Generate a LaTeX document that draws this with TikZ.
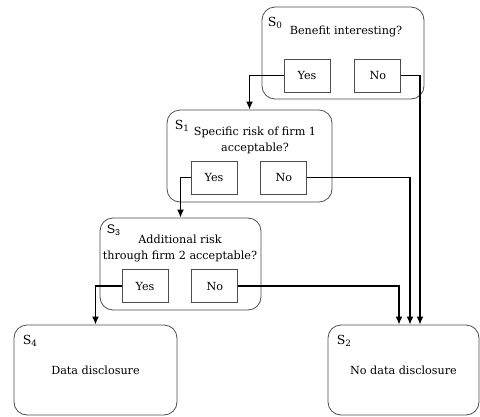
\documentclass[tikz,border=0pt]{standalone}
\usepackage{fontspec}
\setmainfont{DejaVu Serif}
\newfontfamily\labelsans{Liberation Sans}
\usetikzlibrary{positioning,arrows.meta}
\definecolor{boxgray}{gray}{0.3}
\tikzstyle{state} = [draw=boxgray, line width=0.8pt, rectangle, rounded corners=13pt, minimum height=92pt, align=center]
\tikzstyle{answer} = [draw=boxgray, line width=0.8pt, rectangle, minimum width=46pt, minimum height=33pt, inner sep=0pt]
\tikzstyle{question} = [align=center, inner sep=0pt]
\tikzstyle{statelabel} = [inner sep=0pt, font=\fontsize{12.5}{14}\selectfont]
\tikzstyle{line} = [draw, line width=1.8pt, -{Latex[length=8pt,width=7pt]}]

\begin{document}
\begin{tikzpicture}[x=1pt, y=-1pt, font=\fontsize{11.2}{16}\selectfont]
    \useasboundingbox (0,0) rectangle (480,416);

    % Place nodes
    \node [state, minimum width=162pt] (s0) at (343,53) {};
    \node [state, minimum width=165pt] (s1) at (249.5,156) {};
    \node [state, minimum width=161pt] (s3) at (180.5,264) {};
    \node [state, minimum width=163pt, minimum height=90pt] (s4) at (95.5,370) {Data disclosure};
    \node [state, minimum width=151pt, minimum height=90pt] (s2) at (403.5,370) {No data disclosure};

    \node [statelabel, below right=10pt and 6pt of s0.north west] (s0-label) {S\textsubscript{0}};
    \node [statelabel, below right=10pt and 8pt of s1.north west] (s1-label) {S\textsubscript{1}};
    \node [statelabel, below right=7pt and 7pt of s3.north west] (s3-label) {\labelsans S\textsubscript{3}};
    \node [statelabel, below right=10pt and 9pt of s4.north west] (s4-label) {S\textsubscript{4}};
    \node [statelabel, below right=10pt and 9pt of s2.north west] (s2-label) {S\textsubscript{2}};

    \node [question] (s0-question) at (346,31) {Benefit interesting?};
    \node [question] (s1-question) at (255,140) {Specific risk of firm 1\\acceptable?};
    \node [question] (s3-question) at (180,248) {Additional risk\\through firm 2 acceptable?};

    \node [answer] (s0-yes) at (307,75.5) {Yes};
    \node [answer, right=24pt of s0-yes] (s0-no) {No};
    \node [answer] (s1-yes) at (214,177.5) {Yes};
    \node [answer, right=23pt of s1-yes] (s1-no) {No};
    \node [answer] (s3-yes) at (145,286) {Yes};
    \node [answer, right=23pt of s3-yes] (s3-no) {No};

    % Draw edges
    \path [line] (s0-yes.west) -| (s1.north);
    \path [line] (s1-yes.west) -| (s3.north);
    \path [line] (s3-yes.west) -| (s4.north);
    \path [line] (s0-no.east) -| ([xshift=16.5pt]s2.north);
    \path [line] (s1-no.east) -| ([xshift=6.5pt]s2.north);
    \path [line] (s3-no.east) -| ([xshift=-4.5pt]s2.north);
\end{tikzpicture}
\end{document}
